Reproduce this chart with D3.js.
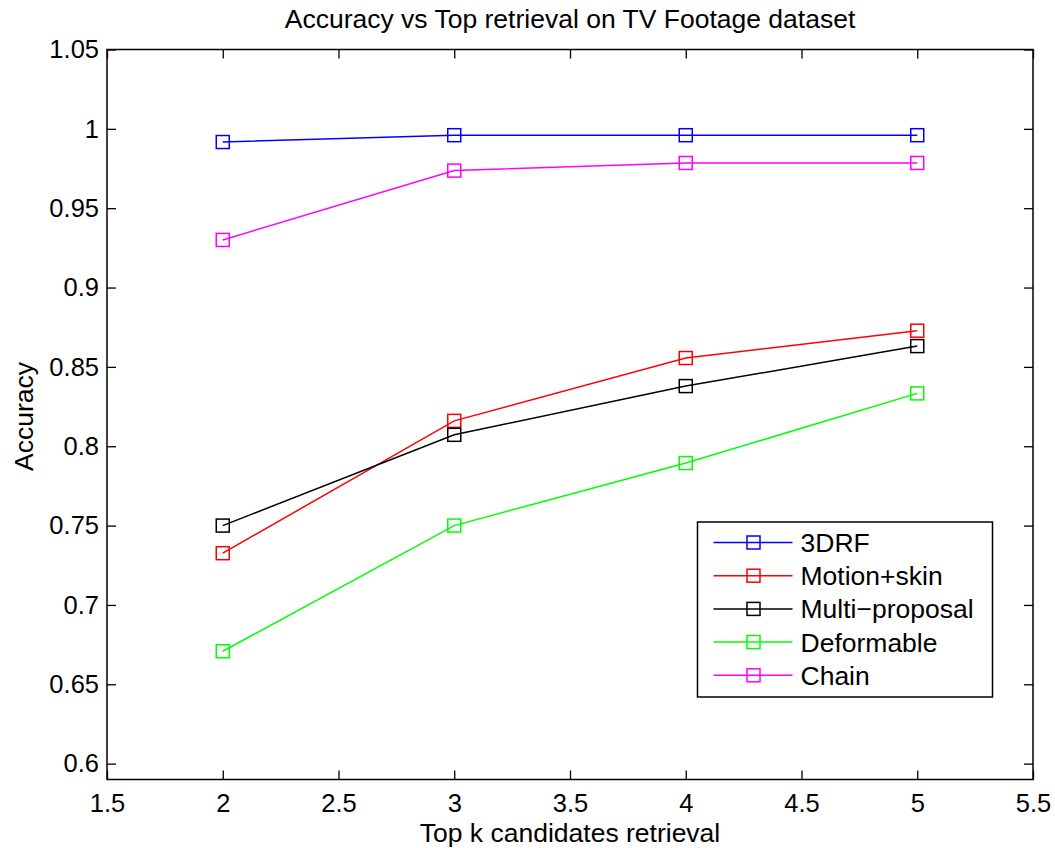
<!DOCTYPE html>
<html>
<head>
<meta charset="utf-8">
<script src="https://cdn.jsdelivr.net/npm/d3@7"></script>
<style>
  html, body { margin: 0; padding: 0; background: #fff; }
  svg text { font-family: "Liberation Sans", Arial, Helvetica, sans-serif; fill: #000; }
</style>
</head>
<body>
<svg id="chart" width="1055" height="848"></svg>
<script>
// Top-k retrieval positions on the x axis
const topK = [2, 3, 4, 5];

// Accuracy per method at each k
const acc3DRF          = [0.9917, 0.9960, 0.9960, 0.9960];
const accMotionSkin    = [0.7326, 0.8160, 0.8556, 0.8728];
const accMultiProposal = [0.7500, 0.8072, 0.8379, 0.8631];
const accDeformable    = [0.6708, 0.7500, 0.7894, 0.8333];
const accChain         = [0.9300, 0.9737, 0.9785, 0.9785];

const seriesNames  = ["3DRF", "Motion+skin", "Multi\u2212proposal", "Deformable", "Chain"];
const seriesValues = [acc3DRF, accMotionSkin, accMultiProposal, accDeformable, accChain];
const seriesColors = ["#0000ff", "#ff0000", "#000000", "#00ff00", "#ff00ff"];

const xTicks = [1.5, 2, 2.5, 3, 3.5, 4, 4.5, 5, 5.5];
const yTicks = [0.6, 0.65, 0.7, 0.75, 0.8, 0.85, 0.9, 0.95, 1, 1.05];

const titleText = "Accuracy vs Top retrieval on TV Footage dataset";
const xLabelText = "Top k candidates retrieval";
const yLabelText = "Accuracy";

// Layout
const plot = { left: 107, top: 49.5, right: 1033, bottom: 779.5 };
const tickFont = 25.5;
const labelFont = 26.5;
const tickLen = 9;
const markerSize = 13;

const svg = d3.select("#chart");

const x = d3.scaleLinear().domain([1.5, 5.5]).range([plot.left, plot.right]);
const y = d3.scaleLinear().domain([0.59, 1.05]).range([plot.bottom, plot.top]);

const fmt = d => String(+d.toFixed(2));

// Data lines and square markers
const line = d3.line().x((d, i) => x(topK[i])).y(d => y(d));
const seriesG = svg.append("g");
seriesValues.forEach((vals, s) => {
  const g = seriesG.append("g");
  g.append("path")
    .attr("d", line(vals))
    .attr("fill", "none")
    .attr("stroke", seriesColors[s])
    .attr("stroke-width", 1.5);
  g.selectAll("rect")
    .data(vals)
    .join("rect")
    .attr("x", (d, i) => x(topK[i]) - markerSize / 2)
    .attr("y", d => y(d) - markerSize / 2)
    .attr("width", markerSize)
    .attr("height", markerSize)
    .attr("fill", "none")
    .attr("stroke", seriesColors[s])
    .attr("stroke-width", 1.5);
});

// Axes: bottom and left with labels, top and right mirrored without labels
const axisStyle = g => {
  g.select(".domain").remove();
  g.selectAll(".tick line").attr("stroke", "#000").attr("stroke-width", 1.3);
  g.selectAll(".tick text")
    .attr("font-size", tickFont)
    .attr("font-family", "Liberation Sans, Arial, sans-serif")
    .attr("fill", "#000");
};

svg.append("g")
  .attr("transform", `translate(0,${plot.bottom})`)
  .call(d3.axisBottom(x).tickValues(xTicks).tickFormat(fmt).tickSizeInner(-tickLen).tickPadding(tickLen + 5).tickSizeOuter(0))
  .call(axisStyle);

svg.append("g")
  .attr("transform", `translate(0,${plot.top})`)
  .call(d3.axisTop(x).tickValues(xTicks).tickFormat("").tickSizeInner(-tickLen).tickSizeOuter(0))
  .call(axisStyle);

svg.append("g")
  .attr("transform", `translate(${plot.left},0)`)
  .call(d3.axisLeft(y).tickValues(yTicks).tickFormat(fmt).tickSizeInner(-tickLen).tickPadding(8).tickSizeOuter(0))
  .call(axisStyle);

svg.append("g")
  .attr("transform", `translate(${plot.right},0)`)
  .call(d3.axisRight(y).tickValues(yTicks).tickFormat("").tickSizeInner(-tickLen).tickSizeOuter(0))
  .call(axisStyle);

// Frame around the plot area
svg.append("rect")
  .attr("x", plot.left)
  .attr("y", plot.top)
  .attr("width", plot.right - plot.left)
  .attr("height", plot.bottom - plot.top)
  .attr("fill", "none")
  .attr("stroke", "#000")
  .attr("stroke-width", 1.5);

// Title and axis labels
svg.append("text")
  .attr("x", (plot.left + plot.right) / 2)
  .attr("y", 28)
  .attr("text-anchor", "middle")
  .attr("font-size", labelFont)
  .text(titleText);

svg.append("text")
  .attr("x", (plot.left + plot.right) / 2)
  .attr("y", 841.5)
  .attr("text-anchor", "middle")
  .attr("font-size", labelFont)
  .text(xLabelText);

svg.append("text")
  .attr("transform", `translate(33,${(plot.top + plot.bottom) / 2 + 2}) rotate(-90)`)
  .attr("text-anchor", "middle")
  .attr("font-size", labelFont)
  .text(yLabelText);

// Legend
const legend = { x: 697.5, y: 522, w: 295, h: 175, rowY0: 542.5, rowStep: 33.2 };
const lg = svg.append("g");
lg.append("rect")
  .attr("x", legend.x)
  .attr("y", legend.y)
  .attr("width", legend.w)
  .attr("height", legend.h)
  .attr("fill", "#fff")
  .attr("stroke", "#000")
  .attr("stroke-width", 1.5);

seriesNames.forEach((name, s) => {
  const ry = legend.rowY0 + s * legend.rowStep;
  lg.append("line")
    .attr("x1", legend.x + 16).attr("x2", legend.x + 95)
    .attr("y1", ry).attr("y2", ry)
    .attr("stroke", seriesColors[s]).attr("stroke-width", 1.5);
  lg.append("rect")
    .attr("x", legend.x + 56 - markerSize / 2)
    .attr("y", ry - markerSize / 2)
    .attr("width", markerSize).attr("height", markerSize)
    .attr("fill", "none")
    .attr("stroke", seriesColors[s]).attr("stroke-width", 1.5);
  lg.append("text")
    .attr("x", legend.x + 103)
    .attr("y", ry + 9.5)
    .attr("font-size", labelFont)
    .text(name);
});
</script>
</body>
</html>
